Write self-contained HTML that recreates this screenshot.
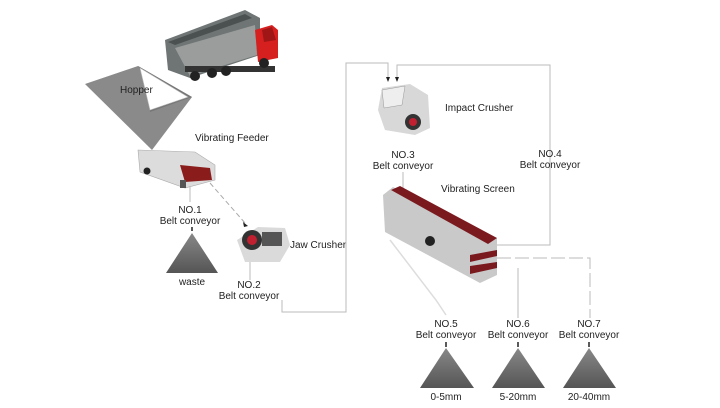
<!DOCTYPE html>
<html><head><meta charset="utf-8"><style>
html,body{margin:0;padding:0;background:#fff;}
svg{display:block;font-family:"Liberation Sans",sans-serif;}
text{font-size:10px;fill:#222;}
</style></head><body>
<svg width="720" height="408" viewBox="0 0 720 408">
<defs>
<linearGradient id="pile" x1="0" y1="0" x2="0" y2="1"><stop offset="0" stop-color="#888"/><stop offset="1" stop-color="#555"/></linearGradient>
</defs>
<!-- truck -->
<polygon points="165,40 245,10 260,18 260,55 190,78 168,70" fill="#6e7574"/>
<polygon points="168,42 245,14 252,18 175,45" fill="#4a5150"/>
<polygon points="175,48 255,25 257,55 190,76" fill="#9a9d9c"/>
<polygon points="255,30 272,25 278,30 278,58 258,62" fill="#d62020"/>
<polygon points="262,30 272,27 276,40 264,42" fill="#a01515"/>
<rect x="185" y="66" width="90" height="6" fill="#333"/>
<circle cx="195" cy="76" r="5" fill="#222"/><circle cx="212" cy="73" r="5" fill="#222"/><circle cx="226" cy="71" r="5" fill="#222"/><circle cx="264" cy="63" r="5" fill="#222"/>
<!-- hopper -->
<polygon points="85,84 138,66 192,97 152,150" fill="#8a8a8a"/>
<polygon points="138,66 192,97 150,112 145,78" fill="#777"/>
<polygon points="140,68 188,97 150,110" fill="#fff" stroke="#bbb" stroke-width="0.6"/>
<text x="120" y="93">Hopper</text>
<!-- feeder -->
<polygon points="138,150 195,152 215,165 215,180 185,188 140,172" fill="#dcdcdc" stroke="#aaa" stroke-width="0.6"/>
<polygon points="180,165 210,168 212,180 185,182" fill="#8b1c1c"/>
<circle cx="147" cy="171" r="3.5" fill="#222"/>
<rect x="180" y="180" width="6" height="8" fill="#555"/>
<text x="195" y="141">Vibrating Feeder</text>
<line x1="190" y1="186" x2="190" y2="202" stroke="#bbb"/>
<text x="190" y="213" text-anchor="middle">NO.1</text>
<text x="190" y="224" text-anchor="middle">Belt conveyor</text>
<line x1="192" y1="227" x2="192" y2="231" stroke="#222" stroke-width="1.5"/>
<polygon points="192,233 166,273 218,273" fill="url(#pile)"/>
<text x="192" y="285" text-anchor="middle">waste</text>
<line x1="210" y1="183" x2="245" y2="223" stroke="#aaa" stroke-dasharray="5,3"/>
<polygon points="243,222 248,226 244,227" fill="#222"/>
<!-- jaw crusher -->
<polygon points="237,240 258,227 285,228 290,245 280,262 245,262" fill="#dadada"/>
<circle cx="252" cy="240" r="10" fill="#333"/><circle cx="252" cy="240" r="5" fill="#c02030"/>
<rect x="262" y="232" width="20" height="14" fill="#555"/>
<text x="290" y="248">Jaw Crusher</text>
<line x1="250" y1="262" x2="250" y2="280" stroke="#bbb"/>
<text x="249" y="288" text-anchor="middle">NO.2</text>
<text x="249" y="299" text-anchor="middle">Belt conveyor</text>
<polyline points="282,300 282,312 346,312 346,63 388,63 388,78" fill="none" stroke="#bbb"/>
<polyline points="397,78 397,65 550,65 550,245 497,245" fill="none" stroke="#bbb"/>
<polygon points="386,77 390,77 388,82" fill="#222"/><polygon points="395,77 399,77 397,82" fill="#222"/>
<!-- impact crusher -->
<polygon points="382,88 410,84 428,95 430,128 415,135 385,130 378,110" fill="#d8d8d8"/>
<polygon points="382,90 405,86 402,105 384,108" fill="#eee" stroke="#999" stroke-width="0.5"/>
<circle cx="413" cy="122" r="8" fill="#333"/><circle cx="413" cy="122" r="4" fill="#c02030"/>
<text x="445" y="111">Impact Crusher</text>
<text x="403" y="158" text-anchor="middle">NO.3</text>
<text x="403" y="169" text-anchor="middle">Belt conveyor</text>
<text x="550" y="157" text-anchor="middle">NO.4</text>
<text x="550" y="168" text-anchor="middle">Belt conveyor</text>
<line x1="403" y1="172" x2="403" y2="188" stroke="#bbb"/>
<!-- vibrating screen -->
<polygon points="383,195 393,187 497,238 497,275 480,283 385,232" fill="#c9c9c9"/>
<polygon points="391,190 400,186 497,238 488,244" fill="#7a1a1f"/>
<polygon points="470,255 497,250 497,256 470,262" fill="#7a1a1f"/>
<polygon points="470,266 497,262 497,268 470,274" fill="#7a1a1f"/>
<circle cx="430" cy="241" r="5" fill="#222"/>
<text x="441" y="192">Vibrating Screen</text>
<polyline points="497,258 590,258 590,318" fill="none" stroke="#bbb" stroke-dasharray="14,4"/>
<line x1="518" y1="268" x2="518" y2="318" stroke="#bbb"/>
<polyline points="390,240 436,300 446,315" fill="none" stroke="#ddd" stroke-width="1.5"/>
<text x="446" y="327" text-anchor="middle">NO.5</text>
<text x="446" y="338" text-anchor="middle">Belt conveyor</text>
<text x="518" y="327" text-anchor="middle">NO.6</text>
<text x="518" y="338" text-anchor="middle">Belt conveyor</text>
<text x="589" y="327" text-anchor="middle">NO.7</text>
<text x="589" y="338" text-anchor="middle">Belt conveyor</text>
<line x1="446" y1="342" x2="446" y2="347" stroke="#222" stroke-width="1.5"/>
<line x1="518" y1="342" x2="518" y2="347" stroke="#222" stroke-width="1.5"/>
<line x1="589" y1="342" x2="589" y2="347" stroke="#222" stroke-width="1.5"/>
<polygon points="446,348 420,388 474,388" fill="url(#pile)"/>
<polygon points="518,348 492,388 545,388" fill="url(#pile)"/>
<polygon points="589,348 563,388 616,388" fill="url(#pile)"/>
<text x="446" y="400" text-anchor="middle">0-5mm</text>
<text x="518" y="400" text-anchor="middle">5-20mm</text>
<text x="589" y="400" text-anchor="middle">20-40mm</text>
</svg>
</body></html>
